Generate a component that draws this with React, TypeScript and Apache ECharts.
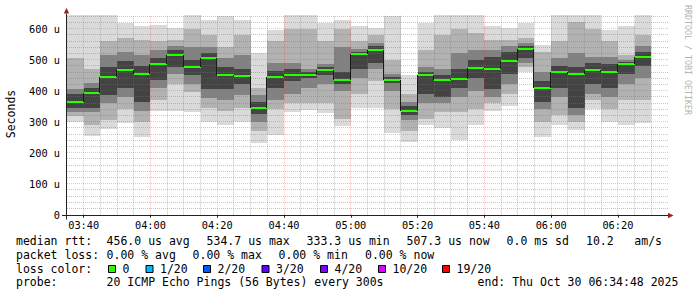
import React, { useEffect, useRef } from "react";
import * as echarts from "echarts";

// ---------- data ----------
// sample end times (each sample covers the 5 minutes before it)
const sampleTimes = [
  "03:40", "03:45", "03:50", "03:55", "04:00", "04:05", "04:10", "04:15", "04:20", "04:25",
  "04:30", "04:35", "04:40", "04:45", "04:50", "04:55", "05:00", "05:05", "05:10", "05:15",
  "05:20", "05:25", "05:30", "05:35", "05:40", "05:45", "05:50", "05:55", "06:00", "06:05",
  "06:10", "06:15", "06:20", "06:25", "06:30",
];
// median rtt (microseconds)
const medianRtt = [
  364.5, 393.5, 443, 466.8, 453, 486, 516, 476, 504.5, 450.6,
  447, 345, 443, 449.7, 449.7, 466.8, 434.5, 517, 531, 434.5,
  333.3, 449.7, 434.5, 437.7, 474, 470, 496.8, 534.7, 408.7, 459,
  453, 466, 461.6, 487, 507.3,
];
// smoke bands (outermost -> innermost), values in microseconds
const maxRtt = [645, 645, 645, 618, 607, 613, 602, 645, 629, 640, 629, 520, 597, 645, 645, 618, 629, 607, 602, 640, 452, 618, 645, 645, 645, 607, 602, 618, 548, 645, 645, 645, 597, 607, 645];
const hi2 = [505, 470, 560, 570, 565, 559, 565, 600, 580, 540, 580, 410, 560, 600, 600, 560, 600, 560, 580, 500, 390, 530, 580, 600, 585, 565, 565, 570, 525, 560, 620, 600, 560, 516, 580];
const hi3 = [405, 425, 515, 525, 515, 530, 545, 540, 540, 505, 515, 385, 490, 490, 470, 485, 540, 535, 555, 455, 365, 475, 470, 520, 530, 530, 545, 555, 460, 505, 520, 510, 510, 500, 545];
const hi4 = [390, 410, 475, 495, 480, 505, 530, 500, 520, 475, 470, 365, 465, 470, 460, 475, 460, 525, 545, 445, 350, 460, 450, 470, 500, 510, 525, 545, 430, 480, 475, 490, 485, 493, 525];
const lo4 = [345, 345, 385, 410, 365, 435, 475, 450, 405, 405, 420, 325, 410, 430, 440, 450, 420, 470, 490, 425, 320, 390, 380, 410, 440, 405, 455, 505, 365, 410, 345, 420, 410, 455, 480];
const lo3 = [330, 330, 360, 380, 335, 410, 455, 420, 375, 370, 385, 300, 370, 390, 410, 420, 400, 440, 470, 400, 305, 360, 360, 380, 400, 380, 420, 490, 340, 380, 320, 390, 380, 420, 440];
const lo2 = [318, 290, 305, 340, 300, 370, 420, 395, 345, 335, 345, 270, 340, 360, 360, 360, 310, 390, 430, 340, 270, 310, 330, 330, 340, 360, 390, 475, 300, 320, 300, 370, 340, 370, 370];
const minRtt = [300, 254, 275, 297, 250, 335, 333, 332, 300, 290, 300, 232, 257, 330, 337, 328, 286, 345, 345, 264, 236, 289, 280, 240, 289, 333, 350, 460, 252, 290, 273, 340, 300, 290, 297];

const xTickLabels = ["03:40", "04:00", "04:20", "04:40", "05:00", "05:20", "05:40", "06:00", "06:20"];
const yTickValues = [0, 100, 200, 300, 400, 500, 600];

const rttStats = ["456.0 us avg", "534.7 us max", "333.3 us min", "507.3 us now", "0.0 ms sd", "10.2", "am/s"];
const lossStats = ["0.00 % avg", "0.00 % max", "0.00 % min", "0.00 % now"];
const lossLabels = ["0", "1/20", "2/20", "3/20", "4/20", "10/20", "19/20"];
const lossColors = ["#26ff00", "#00b8ff", "#0059ff", "#5e00ff", "#7e00ff", "#dd00ff", "#ff0000"];
const probeText = "20 ICMP Echo Pings (56 Bytes) every 300s";
const endText = "end: Thu Oct 30 06:34:48 2025";

// ---------- layout / style ----------
const X_MIN = 215; // 03:35
const X_MAX = 395; // 06:35
const Y_MAX = 645;
const STEP = 5;
const GL = 67, GT = 14.7, GW = 601, GH = 200;
const MONO = '"DejaVu Sans Mono", monospace';
const BAND_COLORS = ["#dadada", "#b2b2b2", "#828282", "#434343"];
const MINOR = "rgba(120,120,120,0.42)";
const MAJOR = "rgba(230,60,60,0.32)";

const toMin = (s: string) => {
  const [h, m] = s.split(":").map(Number);
  return h * 60 + m;
};
const fmtMin = (v: number) => {
  const h = Math.floor(v / 60), m = Math.round(v % 60);
  return String(h).padStart(2, "0") + ":" + String(m).padStart(2, "0");
};

export default function App() {
  const ref = useRef<HTMLDivElement>(null);

  useEffect(() => {
    if (!ref.current) return;
    const chart = echarts.init(ref.current, undefined, { renderer: "svg" });

    const times = sampleTimes.map(toMin);
    const smokeData = times.map((t, i) => [
      t, minRtt[i], lo2[i], lo3[i], lo4[i], medianRtt[i], hi4[i], hi3[i], hi2[i], maxRtt[i],
    ]);
    const medData = times.map((t, i) => [t, medianRtt[i]]);
    const xTicks = xTickLabels.map(toMin);

    const gridData: number[][] = [];
    times.forEach((t) => gridData.push([0, t, t % 20 === 0 ? 1 : 0]));
    for (let v = 20; v <= 640; v += 20) gridData.push([1, v, v % 100 === 0 ? 1 : 0]);

    const graphic: any[] = [];
    // axes
    const ax = GL - 0.5;
    const ay = GT + GH + 0.8;
    graphic.push({ type: "line", shape: { x1: GL - 5, y1: ay, x2: GL + GW, y2: ay }, style: { stroke: "#222", lineWidth: 1 }, z: 10 });
    graphic.push({ type: "polygon", shape: { points: [[GL + GW, ay - 2.7], [GL + GW + 5.5, ay], [GL + GW, ay + 2.7]] }, style: { fill: "#9b1f1f" }, z: 10 });
    graphic.push({ type: "line", shape: { x1: ax, y1: ay + 4, x2: ax, y2: 13.5 }, style: { stroke: "#222", lineWidth: 1 }, z: 10 });
    graphic.push({ type: "polygon", shape: { points: [[ax - 2.7, 13.5], [ax, 8], [ax + 2.7, 13.5]] }, style: { fill: "#9b1f1f" }, z: 10 });

    // y title
    graphic.push({
      type: "text", x: 11, y: 114, rotation: Math.PI / 2,
      style: { text: "Seconds", font: `11.5px ${MONO}`, fill: "#000", align: "center", verticalAlign: "middle" },
    });
    // watermark
    graphic.push({
      type: "text", x: 687.5, y: 60, rotation: -Math.PI / 2,
      style: { text: "RRDTOOL / TOBI OETIKER", font: `8.3px ${MONO}`, fill: "#b4b4b4", align: "center", verticalAlign: "middle" },
    });

    const txt = (text: string, x: number, y: number) => ({
      type: "text", x, y,
      style: { text, font: `11.5px ${MONO}`, fill: "#000", align: "left", verticalAlign: "middle" },
    });
    const rowY = [241, 254.8, 268.6, 282.4];
    // line 1
    graphic.push(txt("median rtt:", 16, rowY[0]));
    const rttX = [106.6, 206.6, 306.6, 406.6, 506.6, 586, 634.3];
    rttStats.forEach((s, i) => graphic.push(txt(s, rttX[i], rowY[0])));
    // line 2
    graphic.push(txt("packet loss:", 16, rowY[1]));
    const lossX = [106.6, 192.6, 278.6, 365];
    lossStats.forEach((s, i) => graphic.push(txt(s, lossX[i], rowY[1])));
    // line 3
    graphic.push(txt("loss color:", 16, rowY[2]));
    const boxX = [108, 145.5, 203, 261.5, 320, 378, 442];
    lossLabels.forEach((s, i) => {
      graphic.push({
        type: "rect", shape: { x: boxX[i] + 0.5, y: 265.5, width: 7, height: 7 },
        style: { fill: lossColors[i], stroke: "#000", lineWidth: 1 },
      });
      graphic.push(txt(s, boxX[i] + 14.5, rowY[2]));
    });
    // line 4
    graphic.push(txt("probe:", 16, rowY[3]));
    graphic.push(txt(probeText, 106.6, rowY[3]));
    graphic.push(txt(endText, 477.6, rowY[3]));

    chart.setOption({
      animation: false,
      backgroundColor: "#ffffff",
      grid: { left: GL, top: GT, width: GW, height: GH },
      xAxis: {
        type: "value", min: X_MIN, max: X_MAX,
        axisLine: { show: false },
        splitLine: { show: false },
        axisTick: { show: true, customValues: xTicks, length: 3, lineStyle: { color: "#222" } },
        axisLabel: {
          customValues: xTicks, formatter: (v: number) => fmtMin(v), margin: 5,
          color: "#000", fontFamily: MONO, fontSize: 10.3,
        },
      },
      yAxis: {
        type: "value", min: 0, max: Y_MAX, interval: 100,
        axisLine: { show: false }, axisTick: { show: false }, splitLine: { show: false },
        axisLabel: {
          formatter: (v: number) => (yTickValues.includes(v) ? (v === 0 ? "0" : `${v} u`) : ""),
          margin: 7, color: "#000", fontFamily: MONO, fontSize: 10.3,
        },
      },
      series: [
        {
          type: "custom", name: "smoke", z: 1, data: smokeData,
          encode: { x: 0, y: 5 },
          renderItem: (_p: any, api: any) => {
            const t = api.value(0);
            const x0 = Math.round(api.coord([Math.max(t - STEP, X_MIN), 0])[0]);
            const x1 = Math.round(api.coord([t, 0])[0]);
            const y = (v: number) => Math.round(api.coord([t, Math.min(v, Y_MAX)])[1]);
            const band = (lo: number, hi: number, fill: string) => ({
              type: "rect",
              shape: { x: x0, y: y(hi), width: x1 - x0, height: y(lo) - y(hi) },
              style: { fill },
            });
            return {
              type: "group",
              children: [
                band(api.value(1), api.value(9), BAND_COLORS[0]),
                band(api.value(2), api.value(8), BAND_COLORS[1]),
                band(api.value(3), api.value(7), BAND_COLORS[2]),
                band(api.value(4), api.value(6), BAND_COLORS[3]),
              ],
            };
          },
        },
        {
          type: "custom", name: "grid", z: 2, data: gridData, silent: true,
          encode: { x: 1, y: 1 },
          renderItem: (_p: any, api: any) => {
            const orient = api.value(0), v = api.value(1), major = api.value(2);
            const style = { stroke: major ? MAJOR : MINOR, lineWidth: 1, lineDash: [1, 1] };
            if (orient === 0) {
              const x = Math.floor(api.coord([v, 0])[0]) + 0.5;
              return { type: "line", shape: { x1: x, y1: api.coord([v, 0])[1], x2: x, y2: api.coord([v, Y_MAX])[1] }, style };
            }
            const yy = Math.floor(api.coord([X_MIN, v])[1]) + 0.5;
            return { type: "line", shape: { x1: api.coord([X_MIN, v])[0], y1: yy, x2: api.coord([X_MAX, v])[0], y2: yy }, style };
          },
        },
        {
          type: "custom", name: "median", z: 3, data: medData,
          renderItem: (p: any, api: any) => {
            const i = p.dataIndex;
            const t = api.value(0), m = api.value(1);
            const x0 = Math.round(api.coord([Math.max(t - STEP, X_MIN), 0])[0]);
            const x1 = Math.round(api.coord([t, 0])[0]);
            const ym = Math.round(api.coord([t, m])[1]);
            const children: any[] = [];
            if (i > 0) {
              const yp = Math.round(api.coord([t, medianRtt[i - 1]])[1]);
              children.push({
                type: "line",
                shape: { x1: x0 - 0.5, y1: Math.min(yp, ym), x2: x0 - 0.5, y2: Math.max(yp, ym) },
                style: { stroke: "#1a1a1a", lineWidth: 1 },
              });
            }
            children.push({
              type: "rect", shape: { x: x0, y: ym - 1, width: x1 - x0, height: 2 },
              style: { fill: lossColors[0] },
            });
            return { type: "group", children };
          },
        },
      ],
      graphic,
    });

    return () => chart.dispose();
  }, []);

  return <div ref={ref} style={{ width: 697, height: 297, position: "absolute", left: 0, top: 0 }} />;
}
